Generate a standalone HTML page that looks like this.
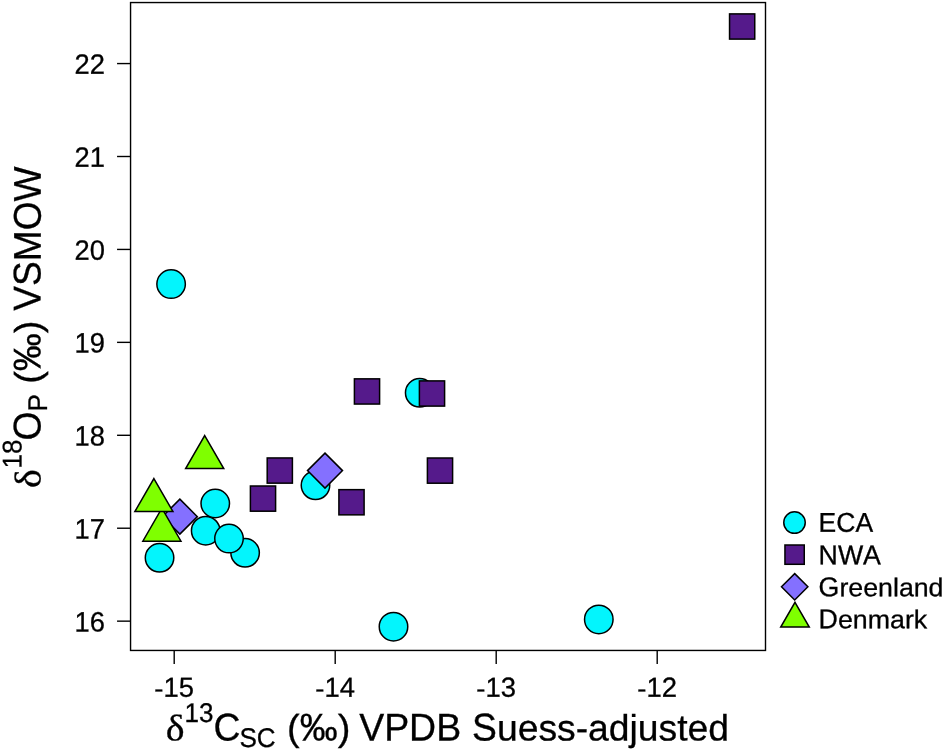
<!DOCTYPE html>
<html><head><meta charset="utf-8"><title>Scatter</title>
<style>html,body{margin:0;padding:0;background:#fff}svg{display:block;will-change:transform}text{font-family:"Liberation Sans",sans-serif;fill:#000;font-kerning:none;stroke:#000;stroke-width:0.3px}.sy{font-family:"Liberation Serif",serif}</style></head><body>
<svg width="944" height="751" viewBox="0 0 944 751">
<g stroke="#000" stroke-width="1.5" stroke-linejoin="miter">
<circle cx="205.70" cy="530.70" r="14.25" fill="#03F5FD"/>
<circle cx="245.10" cy="552.80" r="14.25" fill="#03F5FD"/>
<circle cx="229.00" cy="538.60" r="14.25" fill="#03F5FD"/>
<circle cx="215.25" cy="503.50" r="14.25" fill="#03F5FD"/>
<circle cx="159.55" cy="557.80" r="14.25" fill="#03F5FD"/>
<circle cx="315.50" cy="485.30" r="14.25" fill="#03F5FD"/>
<circle cx="419.70" cy="392.80" r="14.25" fill="#03F5FD"/>
<circle cx="171.10" cy="284.10" r="14.25" fill="#03F5FD"/>
<circle cx="393.50" cy="626.65" r="14.25" fill="#03F5FD"/>
<circle cx="598.80" cy="619.40" r="14.25" fill="#03F5FD"/>
<rect x="250.40" y="486.00" width="25.20" height="25.20" fill="#551A8B"/>
<rect x="267.20" y="457.95" width="25.20" height="25.20" fill="#551A8B"/>
<rect x="338.90" y="489.65" width="25.20" height="25.20" fill="#551A8B"/>
<rect x="354.40" y="378.85" width="25.20" height="25.20" fill="#551A8B"/>
<rect x="419.40" y="380.90" width="25.20" height="25.20" fill="#551A8B"/>
<rect x="427.40" y="458.00" width="25.20" height="25.20" fill="#551A8B"/>
<rect x="729.55" y="13.90" width="25.20" height="25.20" fill="#551A8B"/>
<path d="M179.85 499.15L197.35 516.65L179.85 534.15L162.35 516.65Z" fill="#8470FF"/>
<path d="M325.00 453.10L342.50 470.60L325.00 488.10L307.50 470.60Z" fill="#8470FF"/>
<path d="M204.70 435.60L223.75 468.60L185.65 468.60Z" fill="#7FFF00"/>
<path d="M161.90 508.20L180.95 541.20L142.85 541.20Z" fill="#7FFF00"/>
<path d="M153.90 478.60L172.95 511.60L134.85 511.60Z" fill="#7FFF00"/>
</g>
<g stroke="#000" stroke-width="1.4" fill="none" stroke-linecap="butt">
<rect x="130.55" y="2.55" width="634.95" height="647.90"/>
<path d="M174.20 650.45V663.95"/>
<path d="M335.20 650.45V663.95"/>
<path d="M496.20 650.45V663.95"/>
<path d="M657.20 650.45V663.95"/>
<path d="M130.55 621.15H117.05"/>
<path d="M130.55 528.22H117.05"/>
<path d="M130.55 435.29H117.05"/>
<path d="M130.55 342.36H117.05"/>
<path d="M130.55 249.43H117.05"/>
<path d="M130.55 156.50H117.05"/>
<path d="M130.55 63.57H117.05"/>
</g>
<text transform="translate(154.28 697.40) rotate(0.03) scale(1.0476 1)" font-size="26.18" text-anchor="start">-</text>
<text transform="translate(163.41 696.80) rotate(0.03) scale(0.9942 1)" font-size="27.59" text-anchor="start">15</text>
<text transform="translate(315.28 697.40) rotate(0.03) scale(1.0476 1)" font-size="26.18" text-anchor="start">-</text>
<text transform="translate(324.41 696.80) rotate(0.03) scale(0.9942 1)" font-size="27.59" text-anchor="start">14</text>
<text transform="translate(476.28 697.40) rotate(0.03) scale(1.0476 1)" font-size="26.18" text-anchor="start">-</text>
<text transform="translate(485.41 696.80) rotate(0.03) scale(0.9942 1)" font-size="27.59" text-anchor="start">13</text>
<text transform="translate(637.28 697.40) rotate(0.03) scale(1.0476 1)" font-size="26.18" text-anchor="start">-</text>
<text transform="translate(646.41 696.80) rotate(0.03) scale(0.9942 1)" font-size="27.59" text-anchor="start">12</text>
<text transform="translate(74.53 631.40) rotate(0.03) scale(0.9750 1)" font-size="28.00" text-anchor="start">16</text>
<text transform="translate(74.53 538.47) rotate(0.03) scale(0.9750 1)" font-size="28.00" text-anchor="start">17</text>
<text transform="translate(74.53 445.54) rotate(0.03) scale(0.9750 1)" font-size="28.00" text-anchor="start">18</text>
<text transform="translate(74.53 352.61) rotate(0.03) scale(0.9750 1)" font-size="28.00" text-anchor="start">19</text>
<text transform="translate(74.53 259.68) rotate(0.03) scale(0.9750 1)" font-size="28.00" text-anchor="start">20</text>
<text transform="translate(74.53 166.75) rotate(0.03) scale(0.9750 1)" font-size="28.00" text-anchor="start">21</text>
<text transform="translate(74.53 73.82) rotate(0.03) scale(0.9750 1)" font-size="28.00" text-anchor="start">22</text>
<text transform="translate(165.70 740.40) rotate(0.03) scale(1.0700 1)" font-size="37.30" text-anchor="start" class="sy">δ</text>
<text transform="translate(184.60 722.00) rotate(0.03) scale(0.9625 1)" font-size="27.07" text-anchor="start">13</text>
<text transform="translate(213.40 740.40) rotate(0.03) scale(0.9625 1)" font-size="38.73" text-anchor="start">C</text>
<text transform="translate(239.40 746.90) rotate(0.03) scale(0.9625 1)" font-size="27.07" text-anchor="start">SC</text>
<text transform="translate(287.10 740.40) rotate(0.03) scale(1.0324 1)" font-size="36.75" text-anchor="start">(</text>
<text transform="translate(299.74 740.40) rotate(0.03) scale(0.9798 1)" font-size="38.73" text-anchor="start">‰</text>
<text transform="translate(337.68 740.40) rotate(0.03) scale(1.0324 1)" font-size="36.75" text-anchor="start">)</text>
<text transform="translate(359.20 740.40) rotate(0.03) scale(0.9664 1)" font-size="38.73" text-anchor="start">VPDB</text>
<text transform="translate(472.10 740.40) rotate(0.03) scale(0.9625 1)" font-size="38.73" text-anchor="start">S</text>
<text transform="translate(496.96 740.40) rotate(0.03) scale(1.0142 1)" font-size="36.75" text-anchor="start">uess-adjusted</text>
<text transform="translate(40.60 488.10) rotate(-89.97) scale(1.0700 1)" font-size="37.30" text-anchor="start" class="sy">δ</text>
<text transform="translate(21.60 468.60) rotate(-89.97) scale(0.9625 1)" font-size="27.07" text-anchor="start">18</text>
<text transform="translate(40.60 440.60) rotate(-89.97) scale(0.9625 1)" font-size="38.73" text-anchor="start">O</text>
<text transform="translate(47.10 411.60) rotate(-89.97) scale(0.9625 1)" font-size="27.07" text-anchor="start">P</text>
<text transform="translate(40.60 383.80) rotate(-89.97) scale(1.0324 1)" font-size="36.75" text-anchor="start">(</text>
<text transform="translate(40.60 371.16) rotate(-89.97) scale(0.9798 1)" font-size="38.73" text-anchor="start">‰</text>
<text transform="translate(40.60 333.22) rotate(-89.97) scale(1.0324 1)" font-size="36.75" text-anchor="start">)</text>
<text transform="translate(40.60 310.80) rotate(-89.97) scale(0.9587 1)" font-size="38.73" text-anchor="start">VSMOW</text>
<g stroke="#000" stroke-width="1.5">
<circle cx="794.50" cy="522.60" r="10.75" fill="#03F5FD"/>
<rect x="784.95" y="545.00" width="19.30" height="19.30" fill="#551A8B"/>
<path d="M794.70 573.60L807.90 586.80L794.70 600.00L781.50 586.80Z" fill="#8470FF"/>
<path d="M795.00 602.32L809.27 627.04L780.73 627.04Z" fill="#7FFF00"/>
</g>
<text transform="translate(818.60 531.80) rotate(0.03) scale(0.9760 1)" font-size="27.17" text-anchor="start">ECA</text>
<text transform="translate(818.60 564.30) rotate(0.03) scale(0.9837 1)" font-size="27.17" text-anchor="start">NWA</text>
<text transform="translate(818.60 596.20) rotate(0.03) scale(0.9846 1)" font-size="27.17" text-anchor="start">G</text>
<text transform="translate(839.41 596.20) rotate(0.03) scale(1.0374 1)" font-size="25.79" text-anchor="start">reenland</text>
<text transform="translate(818.60 628.30) rotate(0.03) scale(0.9856 1)" font-size="27.17" text-anchor="start">D</text>
<text transform="translate(837.94 628.30) rotate(0.03) scale(1.0385 1)" font-size="25.79" text-anchor="start">enmark</text>
</svg></body></html>
